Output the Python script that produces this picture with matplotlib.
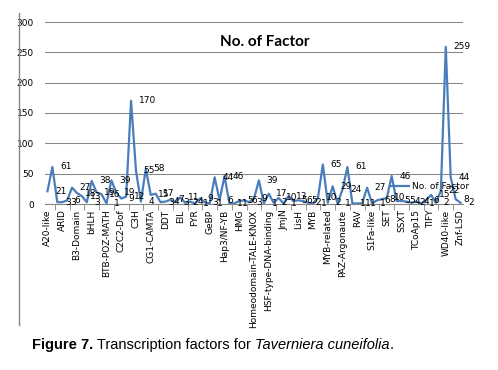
import numpy as np
import matplotlib.pyplot as plt
from matplotlib.lines import Line2D

categories = [
    "A20-like", "AN1-like", "AP2-EREBP", "ARID", "AS2-LOB", "AUX-IAA",
    "B3-Domain", "BBR-BPC", "BES1", "bHLH", "Bromodomain", "BSD",
    "BTB-POZ-MATH", "bZIP", "C2C2-CO-like", "C2C2-Dof", "C2C2-GATA", "C2H2",
    "C3H", "CCAAT-HAP2", "CCHC(Zn)", "CG1-CAMTA", "CPP", "CW-Zn",
    "DDT", "DUF246", "E2F-DP", "EIL", "ERF", "FAR1",
    "FYR", "GARP-G2-like", "GATA", "GeBP", "GRAS", "GRF",
    "Hap3/NF-YB", "HB-other", "HD-ZIP", "HMG", "Homeobox-WOX", "Homeodomain-like",
    "Homeodomain-TALE-KNOX", "HRT-like", "HSF", "HSF-type-DNA-binding", "IWS1", "JmjC",
    "JmjN", "LBD", "LIM", "LisH", "MADS", "mTERF",
    "MYB", "MYB-HB-like", "MYB-like", "MYB-related", "NAC", "OFP",
    "PAZ-Argonaute", "PHD", "PLATZ", "RAV", "Rcd1-like", "RWP-RK",
    "S1Fa-like", "SAP", "SBP", "SET", "SNF2", "SRS",
    "SSXT", "SWI-SNF-SWI3", "TAZ", "TCoAp15", "TCP", "TEA",
    "TIFY", "Trihelix", "TUB", "WD40-like", "WRKY", "zf-HD",
    "Znf-LSD",
]
counts = [
    21, 61, 3, 3, 6, 27, 18, 13, 3, 38, 19, 16,
    1, 39, 19, 9, 12, 170, 55, 4, 58, 15, 17, 3,
    4, 7, 3, 11, 2, 4, 1, 9, 3, 1, 44, 6,
    46, 1, 1, 5, 6, 3, 9, 39, 1, 17, 2, 10,
    1, 13, 5, 6, 5, 2, 1, 10, 65, 2, 29, 1,
    24, 61, 1, 1, 1, 27, 1, 6, 8, 10, 46, 5,
    5, 4, 2, 4, 1, 6, 15, 2, 22, 259, 44, 8,
    2,
]

W, H = 498, 370
fig = plt.figure(figsize=(W / 100, H / 100), dpi=100)
ax = fig.add_axes([45 / W, 1 - 204 / H, 418 / W, 182 / H])

x = np.arange(len(categories))
ax.plot(x, counts, color='#4A7EBB', lw=1.6, label='No. of Factor')
for xi, v in zip(x, counts):
    ax.annotate(str(v), (xi, v), xytext=(5.5, 0), textcoords='offset points',
                ha='left', va='center', fontsize=6.5)

ax.set_xlim(-0.5, len(categories) - 0.5)
ax.set_ylim(0, 300)
ax.set_yticks(range(0, 301, 50))
ax.yaxis.grid(True, color='#868686', lw=0.75)
ax.set_axisbelow(True)
for s in ['top', 'right', 'left']:
    ax.spines[s].set_visible(False)
ax.spines['bottom'].set_color('#868686')
ax.tick_params(axis='y', length=0, labelsize=6.5, pad=8)
ax.set_xticks(x[::3])
ax.set_xticklabels(categories[::3], rotation=90, fontsize=6.5)
ax.tick_params(axis='x', which='major', length=0, pad=4)
ax.set_xticks(np.arange(1.5, len(categories) - 1, 3), minor=True)
ax.tick_params(axis='x', which='minor', length=4, color='#868686')

ax.legend(loc='center left', bbox_to_anchor=(385 / W, 1 - 187 / H),
          bbox_transform=fig.transFigure, frameon=False, fontsize=6.5,
          handlelength=2.2, borderpad=0, handletextpad=0.3)

fig.text(265 / W, 1 - 42 / H, 'No. of Factor', ha='center', va='center',
         fontsize=11, fontweight='bold', family='Lato')

# left border line of the chart box
fig.add_artist(Line2D([19 / W, 19 / W], [1 - 13 / H, 1 - 325 / H],
                      color='#868686', lw=1))

# caption, drawn piece by piece
pieces = [("Figure 7.", 'bold', 'normal'),
          (" Transcription factors for ", 'normal', 'normal'),
          ("Taverniera cuneifolia", 'normal', 'italic'),
          (".", 'normal', 'normal')]
fig.canvas.draw()
r = fig.canvas.get_renderer()
xpos = 32
for txt, wt, st in pieces:
    t = fig.text(xpos / W, 1 - 349 / H, txt, fontsize=10.5, fontweight=wt,
                 fontstyle=st, family='Liberation Sans', va='baseline')
    xpos += t.get_window_extent(r).width

fig.savefig('out.png', dpi=100)
